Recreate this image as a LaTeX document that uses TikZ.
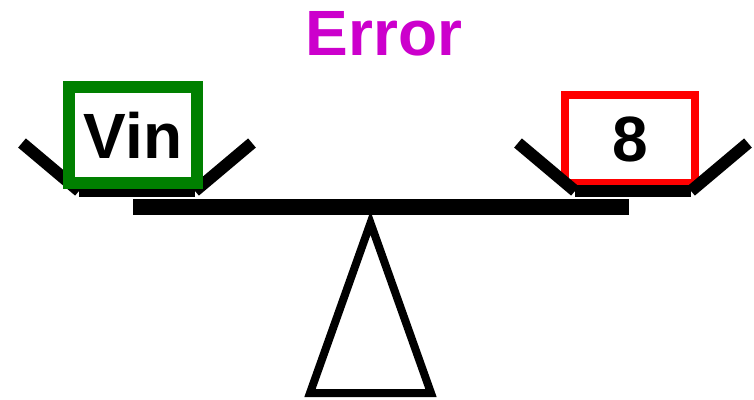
\documentclass[tikz,border=0pt]{standalone}
\usepackage{fontspec}
\setmainfont{Liberation Sans}
\definecolor{errmag}{RGB}{204,0,204}
\definecolor{boxgreen}{RGB}{0,128,0}
\tikzset{
  px/.style={x=0.75pt,y=-0.75pt},
  panline/.style={line width=9pt,line cap=butt,line join=miter},
  arm/.style={line width=9pt,line cap=butt},
  lbl/.style={font=\bfseries\fontsize{48}{48}\selectfont,text=black,inner sep=0pt},
  greenbox/.style={draw=boxgreen,line width=9pt,minimum width=96pt,minimum height=72pt,inner sep=0pt,lbl},
  redbox/.style={draw=red,line width=6pt,minimum width=97.5pt,minimum height=66pt,inner sep=0pt,lbl},
}
\begin{document}
\begin{tikzpicture}[px]
\useasboundingbox (0,0) rectangle (754,400);
\node[font=\bfseries\fontsize{48}{48}\selectfont,text=errmag,inner sep=0pt] (title) at (384,34) {Error};
% right pan
\node[redbox] (rbox) at (630,139) {8};
\coordinate (rl) at (575,191);
\coordinate (rr) at (691,191);
\coordinate (rlt) at (518,143);
\coordinate (rrt) at (748,143);
\draw[panline] (rl) -- (rr);
\draw[arm] (rlt) -- (rl);
\draw[arm] (rrt) -- (rr);
% left pan
\coordinate (ll) at (79,191);
\coordinate (lr) at (195,191);
\coordinate (llt) at (22,143);
\coordinate (lrt) at (252,143);
\draw[panline] (ll) -- (lr);
\draw[arm] (llt) -- (ll);
\draw[arm] (lrt) -- (lr);
\node[greenbox] (lbox) at (133,135) {Vin};
% fulcrum
\coordinate (apex) at (370.5,223);
\coordinate (bl) at (310,393);
\coordinate (br) at (431,393);
\draw[line width=6pt,line join=miter] (apex) -- (bl) -- (br) -- cycle;
% beam
\coordinate (bw) at (133,207);
\coordinate (be) at (629,207);
\draw[line width=12pt] (bw) -- (be);
\end{tikzpicture}
\end{document}
